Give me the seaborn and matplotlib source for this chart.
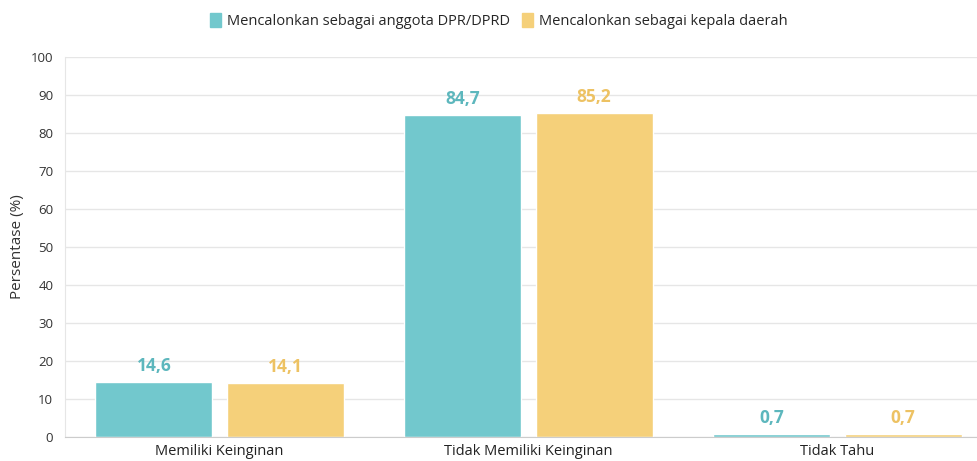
import numpy as np
import pandas as pd
import matplotlib.pyplot as plt
import seaborn as sns

categories = ['Memiliki Keinginan', 'Tidak Memiliki Keinginan', 'Tidak Tahu']
series_names = ['Mencalonkan sebagai anggota DPR/DPRD', 'Mencalonkan sebagai kepala daerah']
dpr_values = [14.6, 84.7, 0.7]
kepala_values = [14.1, 85.2, 0.7]
y_ticks = [0, 10, 20, 30, 40, 50, 60, 70, 80, 90, 100]

bar_colors = ['#72C8CD', '#F5D07A']
label_colors = ['#5DB7BD', '#EDC263']

df = pd.DataFrame({
    'Kategori': categories * 2,
    'Nilai': dpr_values + kepala_values,
    'Seri': [series_names[0]] * 3 + [series_names[1]] * 3,
})

sns.set_style('white')
plt.rcParams['font.family'] = ['Open Sans', 'DejaVu Sans']

fig = plt.figure(figsize=(9.78, 4.61), dpi=100)
ax = fig.add_axes([65 / 978, 24 / 461, 913 / 978, 380 / 461])

sns.barplot(data=df, x='Kategori', y='Nilai', hue='Seri', palette=bar_colors,
            width=0.85, gap=0.11, ax=ax, legend=False, saturation=1)

for i, cont in enumerate(ax.containers):
    labels = [f'{v:.1f}'.replace('.', ',') for v in cont.datavalues]
    ax.bar_label(cont, labels=labels, padding=5, color=label_colors[i],
                 fontsize=12.5, fontweight='bold')

ax.set_ylim(0, 100)
ax.set_xlim(-0.5, 2.455)
ax.set_yticks(y_ticks)
ax.tick_params(axis='y', labelsize=9.5, colors='#333333', length=5, color='#dddddd')
ax.tick_params(axis='x', labelsize=10.5, colors='#222222', length=0, pad=5)
ax.grid(axis='y', color='#e6e6e6', linewidth=1)
ax.set_axisbelow(True)
for s in ['top', 'right']:
    ax.spines[s].set_visible(False)
ax.spines['left'].set_color('#e6e6e6')
ax.spines['bottom'].set_color('#cccccc')
ax.set_xlabel('')
ax.set_ylabel('Persentase (%)', fontsize=11, color='#333333')
ax.yaxis.set_label_coords(-40 / 913, 0.5)

handles = [plt.Rectangle((0, 0), 1, 1, color=c) for c in bar_colors]
fig.legend(handles, series_names, loc='upper center', bbox_to_anchor=(0.51, 1.0),
           ncol=2, frameon=False, fontsize=10.5, handlelength=0.8, handleheight=1.1,
           handletextpad=0.4, columnspacing=0.8)

fig.savefig('out.png', dpi=100)
